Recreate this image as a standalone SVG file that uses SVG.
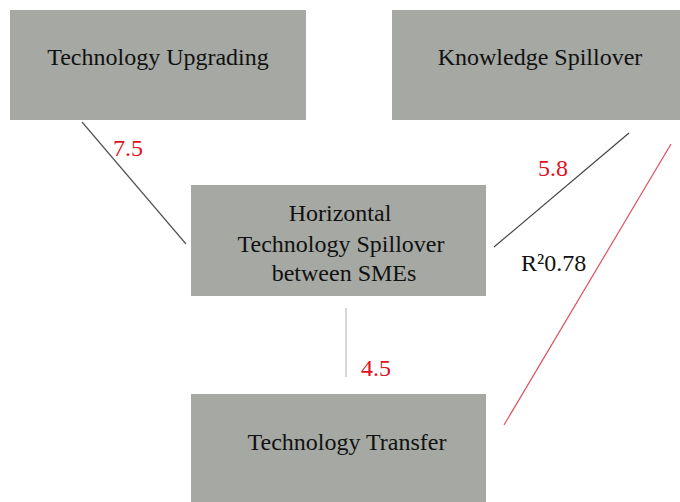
<svg xmlns="http://www.w3.org/2000/svg" width="680" height="502" viewBox="0 0 680 502">
<style>
.box{fill:#a5a8a3}
text{font-family:'Liberation Serif',serif;font-size:24px}
.t{fill:#111}
.r{fill:#e0101e}
</style>
<rect width="680" height="502" fill="#fff"/>
<g id="connectors">
<line x1="82" y1="122" x2="186" y2="244" stroke="#555" stroke-width="1.2"/>
<line x1="629" y1="133" x2="494" y2="247" stroke="#444" stroke-width="1.2"/>
<line x1="671" y1="144" x2="504" y2="425" stroke="#e05060" stroke-width="1.2"/>
<line x1="346" y1="308" x2="346" y2="377" stroke="#bbb" stroke-width="1.2"/>
<text class="r" x="113" y="156">7.5</text>
<text class="r" x="538" y="176">5.8</text>
<text class="r" x="361" y="376">4.5</text>
<text class="t" x="521" y="271">R²0.78</text>
</g>
<g id="upgrading">
<rect class="box" x="10" y="10" width="296" height="110"/>
<text class="t" x="158" y="65" text-anchor="middle">Technology Upgrading</text>
</g>
<g id="knowledge">
<rect class="box" x="392" y="10" width="288" height="110"/>
<text class="t" x="540" y="65" text-anchor="middle">Knowledge Spillover</text>
</g>
<g id="horizontal">
<rect class="box" x="191" y="185" width="295" height="111"/>
<text class="t" x="340" y="221" text-anchor="middle">Horizontal</text>
<text class="t" x="341" y="252" text-anchor="middle">Technology Spillover</text>
<text class="t" x="344" y="281" text-anchor="middle">between SMEs</text>
</g>
<g id="transfer">
<rect class="box" x="191" y="394" width="295" height="108"/>
<text class="t" x="347" y="450" text-anchor="middle">Technology Transfer</text>
</g>
</svg>
